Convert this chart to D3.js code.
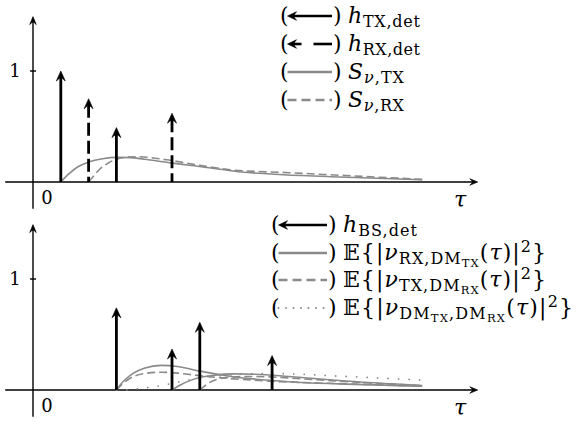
<!DOCTYPE html>
<html><head><meta charset="utf-8">
<script src="https://cdn.jsdelivr.net/npm/d3@7"></script>
<style>body{margin:0;background:#fff}svg{display:block}</style>
</head><body>
<script>
// ---------- data ----------
const tauTX = [1, 3];          const hTX = [1.0, 0.49];
const tauRX = [2, 5];          const hRX = [0.75, 0.62];
const tauBS = [3, 5, 6, 8.6];  const hBS = [0.74, 0.37, 0.61, 0.31];

const sTX_tau = [1.0,1.15,1.3,1.6,2.0,2.5,3.0,3.5,4.0,5.0,6.0,7.5,9.0,11,14];
const sTX_val = [0,0.04,0.075,0.135,0.18,0.21,0.222,0.22,0.205,0.17,0.14,0.09,0.066,0.045,0.02];
const sRX_tau = [2.0,2.15,2.4,2.7,3.0,3.4,3.8,4.8,6.0,7.1,9.2,11.5,14];
const sRX_val = [0,0.045,0.115,0.17,0.205,0.224,0.227,0.2,0.15,0.11,0.084,0.055,0.024];

const nuA_tau = [3,3.15,3.3,3.6,4.0,4.6,5.2,6.0,7.2,9.2,11,14];            // solid, from tau=3
const nuA_val = [0,0.05,0.09,0.15,0.195,0.222,0.212,0.17,0.12,0.075,0.055,0.035];
const nuB_tau = [5,5.3,5.6,6.0,6.5,7.2,8.0,9.2,11,14];                      // solid, from tau=5
const nuB_val = [0,0.045,0.08,0.112,0.132,0.145,0.142,0.122,0.085,0.04];
const ntA_tau = [3,3.2,3.6,4.0,4.6,5.2,5.8,7.0,8.5,10,12,14];              // dashed, from tau=3
const ntA_val = [0,0.05,0.12,0.148,0.16,0.152,0.135,0.105,0.08,0.065,0.05,0.035];
const ntB_tau = [6,6.3,6.6,7.0,7.6,8.5,10,12,14];                           // dashed, from tau=6
const ntB_val = [0,0.06,0.095,0.113,0.122,0.118,0.095,0.065,0.04];
const ndd_tau = [3,3.5,4.0,4.5,5.0,5.5,6.0,7.0,8.0,9.0,11,14];             // dotted
const ndd_val = [0,0.005,0.018,0.035,0.06,0.085,0.105,0.135,0.148,0.147,0.125,0.09];

const topLegend = ["TX,det","RX,det","TX","RX"];
const yTicks = [1];

// ---------- setup ----------
const W = 578, H = 424;
const GRAY = "#8a8a8a";
const MATH = "'DejaVu Serif', 'Liberation Serif', serif";
const FS = 22, SS = 16, SSS = 11.5;
const svg = d3.select("body").append("svg").attr("width", W).attr("height", H)
  .attr("font-family", MATH);

const x = d3.scaleLinear().domain([0, 16]).range([33, 477.8]);
const yTop = d3.scaleLinear().domain([0, 1]).range([182, 71]);
const yBot = d3.scaleLinear().domain([0, 1]).range([390, 279]);

function arrowHead(g, tx, ty, dir, len, half, notch) {
  let p;
  if (dir === "up") p = `M${tx},${ty} L${tx+half},${ty+len} Q${tx},${ty+notch*0.85} ${tx},${ty+notch} Q${tx},${ty+notch*0.85} ${tx-half},${ty+len} Z`;
  else if (dir === "right") p = `M${tx},${ty} L${tx-len},${ty+half} Q${tx-notch*0.85},${ty} ${tx-notch},${ty} Q${tx-notch*0.85},${ty} ${tx-len},${ty-half} Z`;
  else p = `M${tx},${ty} L${tx+len},${ty+half} Q${tx+notch*0.85},${ty} ${tx+notch},${ty} Q${tx+notch*0.85},${ty} ${tx+len},${ty-half} Z`;
  g.append("path").attr("d", p).attr("fill", "#000").attr("stroke", "#000").attr("stroke-width", 0.6);
}

function drawAxes(y) {
  const g = svg.append("g");
  g.append("line").attr("x1", x(-1)).attr("x2", x(16) - 4).attr("y1", y(0)).attr("y2", y(0))
    .attr("stroke", "#000").attr("stroke-width", 1.4);
  arrowHead(g, x(16), y(0), "right", 8, 3.3, 5.5);
  g.append("line").attr("x1", x(0)).attr("x2", x(0)).attr("y1", y(-0.24)).attr("y2", y(1.49) + 4)
    .attr("stroke", "#000").attr("stroke-width", 1.4);
  arrowHead(g, x(0), y(1.49), "up", 8, 3.3, 5.5);
  yTicks.forEach(t => {
    g.append("line").attr("x1", x(0) - 3).attr("x2", x(0) + 3).attr("y1", y(t)).attr("y2", y(t))
      .attr("stroke", "#000").attr("stroke-width", 1.4);
    g.append("text").attr("x", 15).attr("y", y(t) + 6).attr("text-anchor", "middle")
      .attr("font-size", 18).text(t);
  });
  g.append("text").attr("x", 47).attr("y", y(0) + 22).attr("text-anchor", "middle")
    .attr("font-size", 18).text("0");
  g.append("text").attr("x", 460).attr("y", y(0) + 25).attr("text-anchor", "middle")
    .attr("font-size", 22).attr("font-style", "italic").text("τ");
}

function impulses(taus, vals, y, dashed) {
  const g = svg.append("g");
  taus.forEach((t, i) => {
    const tipY = y(vals[i]);
    g.append("line").attr("x1", x(t)).attr("x2", x(t)).attr("y1", tipY + 6).attr("y2", y(0))
      .attr("stroke", "#000").attr("stroke-width", 2.8)
      .attr("stroke-dasharray", dashed ? "13,5" : null);
    arrowHead(g, x(t), tipY, "up", 10, 4.5, 7);
  });
}

function curve(taus, vals, y, dash, width, round) {
  const line = d3.line().x(d => x(d[0])).y(d => y(d[1])).curve(d3.curveMonotoneX);
  svg.append("path").datum(d3.zip(taus, vals)).attr("d", line)
    .attr("fill", "none").attr("stroke", GRAY).attr("stroke-width", width || 1.6)
    .attr("stroke-dasharray", dash).attr("stroke-linecap", round ? "round" : "butt");
}

// ---------- top panel ----------
drawAxes(yTop);
curve(sTX_tau, sTX_val, yTop, null);
curve(sRX_tau, sRX_val, yTop, "8,4");
impulses(tauTX, hTX, yTop, false);
impulses(tauRX, hRX, yTop, true);

// ---------- bottom panel ----------
drawAxes(yBot);
curve(nuA_tau, nuA_val, yBot, null);
curve(nuB_tau, nuB_val, yBot, null);
curve(ntA_tau, ntA_val, yBot, "8,4");
curve(ntB_tau, ntB_val, yBot, "8,4");
curve(ndd_tau, ndd_val, yBot, "0,10.5", 1.8, true);
impulses(tauBS, hBS, yBot, false);

// ---------- legends ----------
function legendRow(x0, yc, kind, textX, textW, build) {
  const g = svg.append("g");
  const base = yc + 6.5;
  g.append("text").attr("x", x0).attr("y", base).attr("font-size", FS).text("(");
  const sx1 = x0 + 7.5, sx2 = textX - 16;
  if (kind === "arrow") {
    g.append("line").attr("x1", sx1 + 5).attr("x2", sx2).attr("y1", yc).attr("y2", yc)
      .attr("stroke", "#000").attr("stroke-width", 2.6);
    arrowHead(g, sx1, yc, "left", 9, 4.3, 6.5);
  } else if (kind === "arrowdash") {
    g.append("line").attr("x1", sx1 + 5).attr("x2", sx1 + 14).attr("y1", yc).attr("y2", yc)
      .attr("stroke", "#000").attr("stroke-width", 2.6);
    g.append("line").attr("x1", sx1 + 26).attr("x2", sx2).attr("y1", yc).attr("y2", yc)
      .attr("stroke", "#000").attr("stroke-width", 2.6);
    arrowHead(g, sx1, yc, "left", 9, 4.3, 6.5);
  } else {
    g.append("line").attr("x1", sx1).attr("x2", sx2).attr("y1", yc).attr("y2", yc)
      .attr("stroke", GRAY).attr("stroke-width", kind === "dot" ? 2 : 2.6)
      .attr("stroke-linecap", kind === "dot" ? "round" : "butt")
      .attr("stroke-dasharray", kind === "dash" ? "9,5" : kind === "dot" ? "0,7.5" : null);
  }
  g.append("text").attr("x", sx2 + 1).attr("y", base).attr("font-size", FS).text(")");
  const t = g.append("text").attr("x", textX).attr("y", base).attr("font-size", FS)
    .attr("textLength", textW).attr("lengthAdjust", "spacing");
  build(t);
}
function sub(t, s, size, dy) { return t.append("tspan").attr("font-size", size).attr("dy", dy).text(s); }
function it(t, s, dy) { return t.append("tspan").attr("font-style", "italic").attr("font-size", FS).attr("dy", dy || 0).text(s); }

const topRows = [16, 44, 72, 100];
legendRow(280, topRows[0], "arrow", 348, 72, t => { it(t, "h"); sub(t, topLegend[0], SS, 4); });
legendRow(280, topRows[1], "arrowdash", 348, 72, t => { it(t, "h"); sub(t, topLegend[1], SS, 4); });
legendRow(280, topRows[2], "solid", 348, 56, t => { it(t, "S"); sub(t, "ν", SS, 4).attr("font-style", "italic"); sub(t, "," + topLegend[2], SS, 0); });
legendRow(280, topRows[3], "dash", 348, 56, t => { it(t, "S"); sub(t, "ν", SS, 4).attr("font-style", "italic"); sub(t, "," + topLegend[3], SS, 0); });

function nuRow(t, a, aSub, b, bSub) {
  t.append("tspan").text("𝔼{|");
  it(t, "ν");
  sub(t, a, SS, 4);
  if (aSub) sub(t, aSub, SSS, 3);
  sub(t, "," + b, SS, aSub ? -3 : 0);
  sub(t, bSub, SSS, 3);
  t.append("tspan").attr("font-size", FS).attr("dy", -7).text("(");
  it(t, "τ");
  t.append("tspan").attr("font-size", FS).text(")|");
  sub(t, "2", SS, -8);
  t.append("tspan").attr("font-size", FS).attr("dy", 8).text("}");
}
const botRows = [225, 253, 280, 308];
legendRow(271, botRows[0], "arrow", 343, 74, t => { it(t, "h"); sub(t, "BS,det", SS, 4); });
legendRow(271, botRows[1], "solid", 343, 203, t => nuRow(t, "RX", null, "DM", "TX"));
legendRow(271, botRows[2], "dash", 343, 203, t => nuRow(t, "TX", null, "DM", "RX"));
legendRow(271, botRows[3], "dot", 343, 230, t => nuRow(t, "DM", "TX", "DM", "RX"));
</script>
</body></html>
